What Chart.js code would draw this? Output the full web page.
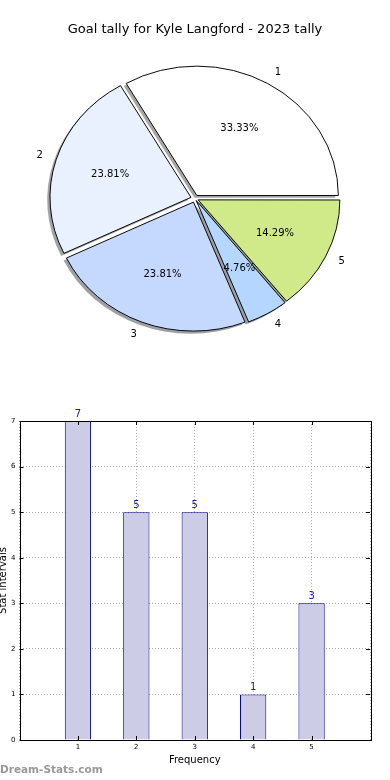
<!DOCTYPE html>
<html>
<head>
<meta charset="utf-8">
<script src="https://cdn.jsdelivr.net/npm/chart.js@4.4.0/dist/chart.umd.min.js"></script>
<style>
  body { margin: 0; background: #fff; width: 390px; height: 780px; position: relative; overflow: hidden; font-family: "DejaVu Sans", sans-serif; }
  #pieWrap { position: absolute; left: 0; top: 0; width: 390px; height: 380px; }
  #barWrap { position: absolute; left: 0; top: 380px; width: 390px; height: 400px; }
  #mark { position: absolute; left: 0; top: 763px; font: bold 10.5px "DejaVu Sans", sans-serif; color: #999; }
</style>
</head>
<body>
<div id="pieWrap"><canvas id="pieChart" width="390" height="380"></canvas></div>
<div id="barWrap"><canvas id="barChart" width="390" height="400"></canvas></div>
<div id="mark">Dream-Stats.com</div>
<script>
// data
const chartTitle = 'Goal tally for Kyle Langford - 2023 tally';
const categories = ['1', '2', '3', '4', '5'];
const goals = [7, 5, 5, 1, 3];
const pieColors = ['#ffffff', '#eaf1fe', '#c5d9ff', '#b5d6ff', '#d0ea8a'];
const yTicks = [0, 1, 2, 3, 4, 5, 6, 7];

const total = goals.reduce((a, b) => a + b, 0);
const pctLabels = goals.map(v => (v / total * 100).toFixed(2) + '%');

// chart.js draws clockwise, the original goes counter-clockwise from 3 o'clock
const pieOrder = [4, 3, 2, 1, 0];
const EXPLODE = 4.2;     // px
const SHADOW = 2.8;      // px
const SQUASH = 129 / 141; // pie is an ellipse in the original

function shadowColor(hex) {
    const n = parseInt(hex.slice(1), 16);
    const r = Math.round(((n >> 16) & 255) * 0.3);
    const g = Math.round(((n >> 8) & 255) * 0.3);
    const b = Math.round((n & 255) * 0.3);
    return 'rgba(' + r + ',' + g + ',' + b + ',0.5)';
}

function slicePos(arc, k) {
    const mid = (arc.startAngle + arc.endAngle) / 2;
    const cx = arc.x + Math.cos(mid) * EXPLODE;
    const cy = arc.y + Math.sin(mid) * EXPLODE * SQUASH;
    return {
        x: cx + Math.cos(mid) * arc.outerRadius * k,
        y: cy + Math.sin(mid) * arc.outerRadius * k * SQUASH,
        right: Math.cos(mid) >= 0
    };
}

const pieDeco = {
    id: 'pieDeco',
    beforeDatasetsDraw(chart) {
        const ctx = chart.ctx;
        const arcs = chart.getDatasetMeta(0).data;
        const a0 = arcs[0];
        ctx.save();
        ctx.translate(a0.x, a0.y);
        ctx.scale(1, SQUASH);
        ctx.translate(-a0.x, -a0.y);
        // shadows under the wedges
        arcs.forEach((arc, j) => {
            const mid = (arc.startAngle + arc.endAngle) / 2;
            const cx = arc.x + Math.cos(mid) * EXPLODE - SHADOW;
            const cy = arc.y + Math.sin(mid) * EXPLODE + SHADOW;
            ctx.beginPath();
            ctx.moveTo(cx, cy);
            ctx.arc(cx, cy, arc.outerRadius, arc.startAngle, arc.endAngle);
            ctx.closePath();
            ctx.fillStyle = shadowColor(pieColors[pieOrder[j]]);
            ctx.fill();
        });
    },
    afterDatasetsDraw(chart) {
        const ctx = chart.ctx;
        ctx.restore();
        const arcs = chart.getDatasetMeta(0).data;
        ctx.save();
        ctx.fillStyle = '#000';
        ctx.font = '10px "DejaVu Sans"';
        ctx.textBaseline = 'middle';
        arcs.forEach((arc, j) => {
            const i = pieOrder[j];
            const p = slicePos(arc, 0.6);
            ctx.textAlign = 'center';
            ctx.fillText(pctLabels[i], p.x, p.y);
            const q = slicePos(arc, 1.1);
            ctx.textAlign = q.right ? 'left' : 'right';
            ctx.fillText(categories[i], q.x, q.y);
        });
        ctx.font = '13px "DejaVu Sans"';
        ctx.textAlign = 'center';
        ctx.fillText(chartTitle, 195, 30);
        ctx.restore();
    }
};

new Chart(document.getElementById('pieChart'), {
    type: 'pie',
    data: {
        labels: pieOrder.map(i => categories[i]),
        datasets: [{
            data: pieOrder.map(i => goals[i]),
            backgroundColor: pieOrder.map(i => pieColors[i]),
            borderColor: '#000',
            borderWidth: 1,
            clip: false,
            offset: (c) => {
                if (c.raw === undefined) return 0;
                const circ = c.raw / total * 2 * Math.PI;
                const fix = 1 - Math.sin(Math.min(Math.PI, circ));
                return 4 * EXPLODE / (1 + fix);
            }
        }]
    },
    options: {
        responsive: false,
        animation: false,
        rotation: 90,
        radius: 141,
        layout: { padding: { top: 17 } },
        plugins: { legend: { display: false }, tooltip: { enabled: false } }
    },
    plugins: [pieDeco]
});

// bar chart
const barDeco = {
    id: 'barDeco',
    afterDraw(chart) {
        const ctx = chart.ctx;
        const a = chart.chartArea;
        const xs = chart.scales.x, ys = chart.scales.y;
        ctx.save();
        ctx.strokeStyle = '#000';
        ctx.lineWidth = 1;
        ctx.strokeRect(Math.round(a.left) + 0.5, Math.round(a.top) + 0.5,
            Math.round(a.right - a.left), Math.round(a.bottom - a.top));
        // inward tick marks
        ctx.beginPath();
        yTicks.forEach(v => {
            const y = Math.round(ys.getPixelForValue(v)) + 0.5;
            ctx.moveTo(a.left, y); ctx.lineTo(a.left + 4, y);
            ctx.moveTo(a.right, y); ctx.lineTo(a.right - 4, y);
        });
        categories.forEach(c => {
            const x = Math.round(xs.getPixelForValue(Number(c))) + 0.5;
            ctx.moveTo(x, a.bottom); ctx.lineTo(x, a.bottom - 4);
            ctx.moveTo(x, a.top); ctx.lineTo(x, a.top + 4);
        });
        ctx.stroke();
        // values above bars
        const meta = chart.getDatasetMeta(0);
        ctx.fillStyle = '#1a1a99';
        ctx.font = '10px "DejaVu Sans"';
        ctx.textAlign = 'center';
        ctx.textBaseline = 'bottom';
        meta.data.forEach((bar, i) => {
            ctx.fillText(String(goals[i]), bar.x, bar.y - 2);
        });
        // axis titles
        ctx.fillStyle = '#000';
        ctx.textBaseline = 'middle';
        ctx.fillText('Frequency', (a.left + a.right) / 2, 380);
        ctx.translate(3, (a.top + a.bottom) / 2);
        ctx.rotate(-Math.PI / 2);
        ctx.fillText('Stat intervals', 0, 0);
        ctx.restore();
    }
};

const gridStyle = { color: '#aaaaaa', lineWidth: 1, drawTicks: false, offset: false };

new Chart(document.getElementById('barChart'), {
    type: 'bar',
    data: {
        datasets: [{
            data: goals.map((v, i) => ({ x: Number(categories[i]), y: v })),
            backgroundColor: '#ccccE6',
            borderColor: '#00008b',
            borderWidth: 1,
            barPercentage: 0.45,
            categoryPercentage: 1
        }]
    },
    options: {
        responsive: false,
        animation: false,
        layout: { padding: { top: 41, right: 20, left: 0, bottom: 0 } },
        plugins: { legend: { display: false }, tooltip: { enabled: false } },
        scales: {
            x: {
                type: 'linear', min: 0, max: 6, z: 1, offset: false,
                afterFit: s => { s.height = 40; },
                grid: gridStyle,
                border: { display: false, dash: [1, 2] },
                ticks: {
                    stepSize: 1, padding: 3, color: '#000', autoSkip: false, maxRotation: 0,
                    font: { family: 'DejaVu Sans', size: 7 },
                    callback: v => categories.includes(String(v)) ? String(v) : ''
                }
            },
            y: {
                min: 0, max: 7, z: 1,
                afterFit: s => { s.width = 19.5; },
                grid: gridStyle,
                border: { display: false, dash: [1, 2] },
                ticks: {
                    stepSize: 1, padding: 4, color: '#000',
                    font: { family: 'DejaVu Sans', size: 7 }
                }
            }
        }
    },
    plugins: [barDeco]
});
</script>
</body>
</html>
